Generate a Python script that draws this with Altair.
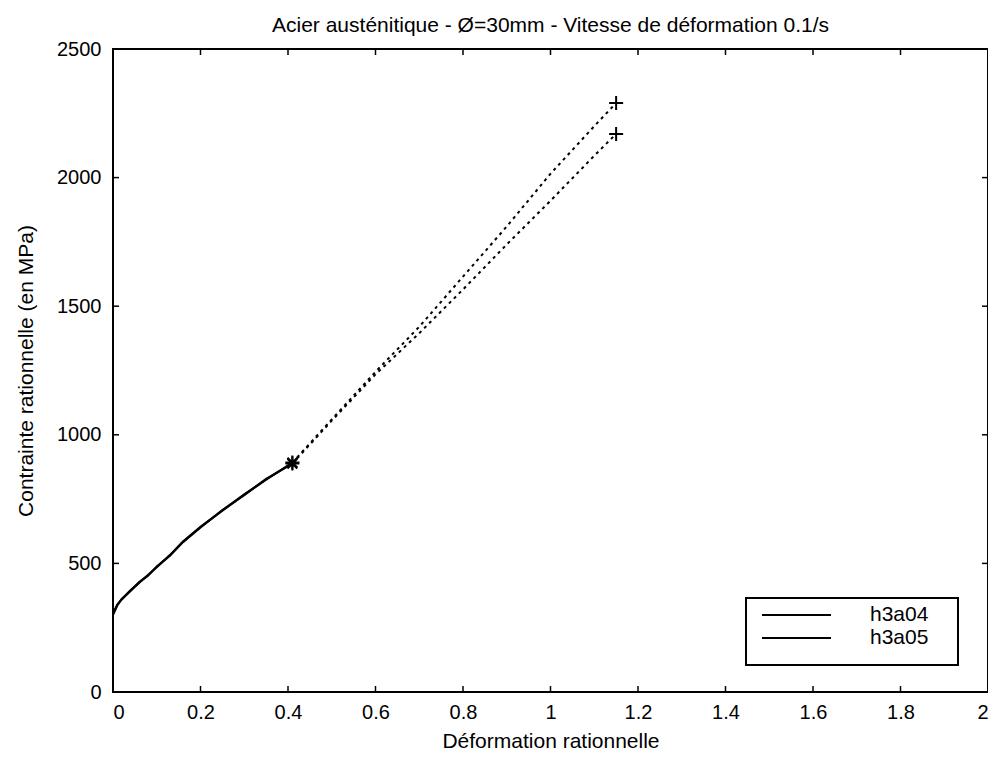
import altair as alt
import pandas as pd

# ---- data ----
eps_mes = [0, 0.01, 0.02, 0.04, 0.06, 0.08, 0.10, 0.13, 0.16, 0.20, 0.25, 0.30, 0.35, 0.41]
sig_h3a04_mes = [305, 340, 360, 395, 425, 455, 485, 532, 585, 642, 705, 768, 826, 892]
sig_h3a05_mes = [300, 338, 362, 393, 427, 452, 488, 530, 583, 640, 707, 766, 828, 888]

eps_ext = [0.41, 0.5, 0.6, 0.7, 0.8, 0.9, 1.0, 1.1, 1.15]
sig_h3a04_ext = [892, 1060, 1245, 1420, 1615, 1810, 2015, 2200, 2290]
sig_h3a05_ext = [888, 1055, 1235, 1395, 1565, 1740, 1910, 2085, 2170]

series = ["h3a04", "h3a05"]
x_ticks = [0, 0.2, 0.4, 0.6, 0.8, 1, 1.2, 1.4, 1.6, 1.8, 2]
y_ticks = [0, 500, 1000, 1500, 2000, 2500]

title = "Acier austénitique - Ø=30mm - Vitesse de déformation 0.1/s"
x_title = "Déformation rationnelle"
y_title = "Contrainte rationnelle (en MPa)"

FONT = "Liberation Sans"
W, H = 875, 643

rows_mes = []
for s, vals in zip(series, [sig_h3a04_mes, sig_h3a05_mes]):
    for e, v in zip(eps_mes, vals):
        rows_mes.append({"eps": e, "sig": v, "serie": s})
rows_ext = []
for s, vals in zip(series, [sig_h3a04_ext, sig_h3a05_ext]):
    for e, v in zip(eps_ext, vals):
        rows_ext.append({"eps": e, "sig": v, "serie": s})
df_mes = pd.DataFrame(rows_mes)
df_ext = pd.DataFrame(rows_ext)
df_star = df_mes[df_mes["eps"] == eps_mes[-1]]
df_plus = df_ext[df_ext["eps"] == eps_ext[-1]]

xs = alt.Scale(domain=[0, 2], nice=False, zero=False)
ys = alt.Scale(domain=[0, 2500], nice=False, zero=False)

x_enc = alt.X("eps:Q", scale=xs, title=x_title,
              axis=alt.Axis(values=x_ticks, format="~g", ticks=False, domain=False, grid=False,
                            labelPadding=10, titlePadding=8))
y_enc = alt.Y("sig:Q", scale=ys, title=y_title,
              axis=alt.Axis(values=y_ticks, format="d", ticks=False, domain=False, grid=False,
                            labelPadding=12, titlePadding=20))

solid = alt.Chart(df_mes).mark_line(strokeWidth=2.2, color="black").encode(
    x=x_enc, y=y_enc, detail="serie:N")
dotted = alt.Chart(df_ext).mark_line(strokeWidth=2, strokeDash=[3, 4], color="black").encode(
    x=alt.X("eps:Q", scale=xs), y=alt.Y("sig:Q", scale=ys), detail="serie:N")

star_path = "M-1,0L1,0M0,-1L0,1M-0.7,-0.7L0.7,0.7M-0.7,0.7L0.7,-0.7"
plus_path = "M-1,0L1,0M0,-1L0,1"
stars = alt.Chart(df_star).mark_point(shape=star_path, size=196, filled=False, color="black",
                                      strokeWidth=2, opacity=1).encode(
    x=alt.X("eps:Q", scale=xs), y=alt.Y("sig:Q", scale=ys))
pluses = alt.Chart(df_plus).mark_point(shape=plus_path, size=196, filled=False, color="black",
                                       strokeWidth=2, opacity=1).encode(
    x=alt.X("eps:Q", scale=xs), y=alt.Y("sig:Q", scale=ys))

# inward ticks (box style)
dfx = pd.DataFrame({"t": x_ticks[1:-1]})
dfy = pd.DataFrame({"t": y_ticks[1:-1]})
TL = 6
tick_style = dict(color="black", strokeWidth=1.5)
xb = alt.Chart(dfx).mark_rule(**tick_style).encode(
    x=alt.X("t:Q", scale=xs), y=alt.value(H), y2=alt.value(H - TL))
xt = alt.Chart(dfx).mark_rule(**tick_style).encode(
    x=alt.X("t:Q", scale=xs), y=alt.value(0), y2=alt.value(TL))
yl = alt.Chart(dfy).mark_rule(**tick_style).encode(
    y=alt.Y("t:Q", scale=ys), x=alt.value(0), x2=alt.value(TL))
yr = alt.Chart(dfy).mark_rule(**tick_style).encode(
    y=alt.Y("t:Q", scale=ys), x=alt.value(W), x2=alt.value(W - TL))

# legend box (MATLAB style)
LX0, LX1, LY0, LY1 = 633, 845, 549, 616
leg_box = alt.Chart(pd.DataFrame({"a": [0]})).mark_rect(
    fill="white", stroke="black", strokeWidth=2).encode(
    x=alt.value(LX0), x2=alt.value(LX1), y=alt.value(LY0), y2=alt.value(LY1))
leg_layers = [leg_box]
for i, s in enumerate(series):
    yy = 566 + i * 23
    d = pd.DataFrame({"serie": [s]})
    leg_layers.append(alt.Chart(d).mark_rule(color="black", strokeWidth=2.2).encode(
        x=alt.value(649), x2=alt.value(718), y=alt.value(yy)))
    leg_layers.append(alt.Chart(d).mark_text(
        align="left", baseline="middle", font=FONT, fontSize=21, color="black").encode(
        text="serie:N", x=alt.value(757), y=alt.value(yy)))

chart = alt.layer(solid, dotted, stars, pluses, xb, xt, yl, yr, *leg_layers).properties(
    width=W, height=H,
    title=alt.Title(title, fontSize=21, font=FONT, fontWeight="normal", color="black", offset=3),
    autosize=alt.AutoSizeParams(type="none"),
    padding={"left": 105, "top": 41, "right": 0, "bottom": 62},
    background="white",
).configure_view(
    stroke="black", strokeWidth=2
).configure_axis(
    labelFont=FONT, labelFontSize=20, labelColor="black",
    titleFont=FONT, titleFontSize=21, titleColor="black", titleFontWeight="normal"
)

chart.save("out.html", embed_options={"renderer": "svg", "actions": False})
